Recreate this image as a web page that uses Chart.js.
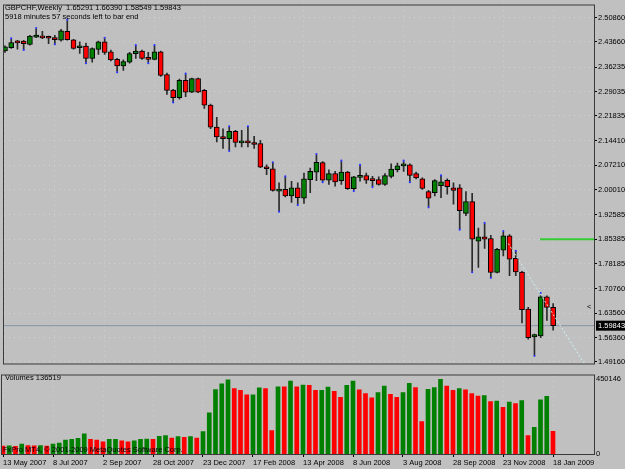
<!DOCTYPE html>
<html>
<head>
<meta charset="utf-8">
<script src="https://cdn.jsdelivr.net/npm/chart.js@4.4.1/dist/chart.umd.min.js"></script>
<style>
html, body { margin: 0; padding: 0; background: #c0c0c0; }
#wrap { position: relative; width: 625px; height: 469px; overflow: hidden; background: #c0c0c0; }
#price { position: absolute; left: 0; top: 0; }
#vol { position: absolute; left: 0; top: 369px; }
</style>
</head>
<body>
<div id="wrap">
  <canvas id="price" width="625" height="369"></canvas>
  <canvas id="vol" width="625" height="100"></canvas>
</div>
<script>
// GBPCHF weekly, 13 May 2007 .. 18 Jan 2009 (bar index 0..88)
const opens = [
  2.4098, 2.4194, 2.4389, 2.4389, 2.4290, 2.4505, 2.4543, 2.4505, 2.4493, 2.4418,
  2.4679, 2.4426, 2.4194, 2.4243, 2.3883, 2.4145, 2.4368, 2.4078, 2.3854, 2.3662,
  2.3767, 2.4020, 2.4098, 2.3903, 2.3854, 2.4078, 2.3401, 2.2945, 2.2721, 2.3235,
  2.2886, 2.3285, 2.2936, 2.2500, 2.1849, 2.1559, 2.1512, 2.1724, 2.1384, 2.1442,
  2.1396, 2.1367, 2.0669, 2.0620, 1.9960, 2.0010, 1.9815, 2.0059, 1.9748, 2.0300,
  2.0518, 2.0803, 2.0280, 2.0475, 2.0271, 2.0524, 2.0030, 2.0367, 2.0417, 2.0300,
  2.0300, 2.0155, 2.0396, 2.0591, 2.0707, 2.0736, 2.0475, 2.0321, 1.9943, 1.9914,
  2.0117, 2.0280, 2.0059, 2.0059, 1.9304, 1.9652, 1.8479, 1.8606, 1.8557, 1.7560,
  1.8217, 1.8635, 1.7976, 1.7569, 1.6474, 1.5651, 1.5680, 1.6834, 1.65291
];
const highs = [
  2.4252, 2.4447, 2.4418, 2.4418, 2.4563, 2.4746, 2.4679, 2.4543, 2.4563, 2.4737,
  2.4999, 2.4447, 2.4368, 2.4331, 2.4194, 2.4389, 2.4464, 2.4127, 2.3883, 2.3837,
  2.4057, 2.4243, 2.4127, 2.4057, 2.4243, 2.4098, 2.3447, 2.2965, 2.3273, 2.3401,
  2.3302, 2.3302, 2.2965, 2.2529, 2.2140, 2.1803, 2.1849, 2.1753, 2.1753, 2.1849,
  2.1579, 2.1463, 2.0736, 2.0786, 2.0205, 2.0367, 2.0251, 2.0205, 2.0495, 2.0640,
  2.1027, 2.0832, 2.0591, 2.0541, 2.0832, 2.0541, 2.0396, 2.0707, 2.0495, 2.0396,
  2.0379, 2.0475, 2.0765, 2.0786, 2.0832, 2.0765, 2.0524, 2.0350, 1.9981, 2.0300,
  2.0396, 2.0321, 2.0205, 2.0155, 1.9943, 1.9894, 1.8868, 1.8993, 1.8653, 1.8266,
  1.8752, 1.8673, 1.8171, 1.7589, 1.6523, 1.5735, 1.6880, 1.6863, 1.66390
];
const lows = [
  2.4057, 2.4174, 2.4156, 2.4156, 2.4272, 2.4493, 2.4464, 2.4319, 2.4319, 2.4389,
  2.4418, 2.4156, 2.4028, 2.3767, 2.3767, 2.3999, 2.3999, 2.3808, 2.3497, 2.3526,
  2.3738, 2.3883, 2.3854, 2.3767, 2.3837, 2.3351, 2.2820, 2.2605, 2.2674, 2.2750,
  2.2866, 2.2866, 2.2401, 2.1803, 2.1413, 2.1221, 2.1172, 2.1268, 2.1268, 2.1268,
  2.1221, 2.0649, 2.0446, 1.9960, 1.9379, 1.9786, 1.9623, 1.9574, 1.9594, 1.9914,
  2.0271, 2.0251, 2.0155, 2.0106, 2.0155, 2.0010, 1.9989, 2.0251, 2.0184, 2.0106,
  2.0135, 2.0126, 2.0350, 2.0524, 2.0541, 2.0251, 2.0321, 2.0010, 1.9507, 1.9815,
  1.9769, 1.9873, 1.9574, 1.8848, 1.9234, 1.7589, 1.7706, 1.8266, 1.7424, 1.7540,
  1.8043, 1.7462, 1.7462, 1.6067, 1.5584, 1.5120, 1.5631, 1.6137, 1.58549
];
const closes = [
  2.4223, 2.4348, 2.4339, 2.4319, 2.4543, 2.4572, 2.4485, 2.4476, 2.4435, 2.4697,
  2.4435, 2.4174, 2.4252, 2.3883, 2.4174, 2.4368, 2.4057, 2.3837, 2.3662, 2.3787,
  2.4020, 2.4098, 2.3883, 2.3854, 2.4078, 2.3380, 2.2936, 2.2721, 2.3235, 2.2886,
  2.3285, 2.2886, 2.2500, 2.1849, 2.1559, 2.1512, 2.1724, 2.1396, 2.1442, 2.1384,
  2.1338, 2.0669, 2.0620, 1.9981, 2.0010, 1.9815, 2.0059, 1.9769, 2.0321, 2.0541,
  2.0809, 2.0280, 2.0475, 2.0234, 2.0524, 2.0030, 2.0379, 2.0425, 2.0280, 2.0271,
  2.0155, 2.0417, 2.0611, 2.0707, 2.0736, 2.0425, 2.0350, 2.0039, 1.9748, 2.0271,
  2.0234, 2.0088, 1.9981, 1.9379, 1.9652, 1.8537, 1.8606, 1.8537, 1.7560, 1.8237,
  1.8635, 1.7947, 1.7569, 1.6456, 1.5631, 1.5718, 1.6834, 1.6523, 1.59843
];
const volumes = [
  47000, 49000, 46000, 60000, 51000, 49000, 51000, 48000, 60000, 66000,
  84000, 88000, 94000, 122000, 88000, 84000, 73000, 88000, 89000, 79000,
  73000, 79000, 88000, 90000, 88000, 107000, 111000, 96000, 105000, 101000,
  105000, 96000, 135000, 248000, 388000, 422000, 446000, 394000, 383000, 356000,
  357000, 398000, 394000, 141000, 405000, 404000, 439000, 405000, 415000, 414000,
  383000, 384000, 403000, 377000, 341000, 413000, 439000, 386000, 364000, 338000,
  370000, 409000, 360000, 341000, 370000, 426000, 400000, 195000, 390000, 400000,
  450146, 409000, 383000, 394000, 386000, 364000, 349000, 351000, 315000, 319000,
  281000, 313000, 304000, 321000, 111000, 161000, 326000, 347000, 136519
];
// fractal markers (bar index, price)
const fractalIdx = [1, 3, 5, 8, 10, 13, 16, 18, 21, 23, 24, 27, 29, 36, 36, 39, 43, 44, 45, 47,
  50, 51, 54, 56, 57, 59, 64, 65, 68, 70, 73, 75, 77, 78, 80, 82, 85, 86];
const fractalVal = [2.4475, 2.4130, 2.4775, 2.4295, 2.5025, 2.3740, 2.4490, 2.3470, 2.4270, 2.3740,
  2.4270, 2.2580, 2.3428, 2.1876, 2.1145, 2.1876, 2.0813, 1.9352, 2.0394, 1.9547,
  2.1054, 2.0224, 2.0859, 1.9962, 2.0734, 2.0079, 2.0859, 2.0224, 1.9480, 2.0423,
  1.8821, 1.7562, 1.9020, 1.7397, 1.8779, 1.8198, 1.5093, 1.6950];

const dateIdx = [0, 8, 16, 24, 32, 40, 48, 56, 64, 72, 80, 88];
const dateLabels = ['13 May 2007', '8 Jul 2007', '2 Sep 2007', '28 Oct 2007', '23 Dec 2007', '17 Feb 2008',
  '13 Apr 2008', '8 Jun 2008', '3 Aug 2008', '28 Sep 2008', '23 Nov 2008', '18 Jan 2009'];
const priceTicks = [2.50860, 2.43660, 2.36235, 2.29035, 2.21835, 2.14410, 2.07210, 2.00010,
  1.92585, 1.85385, 1.78185, 1.70760, 1.63560, 1.56360, 1.49160];
const volTicks = [0, 450146];

// drawn objects
const levelIdx = [85.9, 96];
const levelVal = [1.85385, 1.85385];
const trendIdx = [80.8, 94];
const trendVal = [1.8412, 1.4575];
const lastPrice = closes[closes.length - 1];

const X_MIN = -0.16, X_MAX = 94.56;
const font = { family: "'Liberation Sans', Arial, sans-serif", size: 7.5 };
const gridColor = 'rgba(212,212,212,0.9)';

const bull = '#008000', bear = '#ff0000';
const candleColors = opens.map((o, i) => closes[i] >= opens[i] ? bull : bear);
const volColors = volumes.map((v, i) => i > 0 && v > volumes[i - 1] ? bull : bear);

const frame = {
  id: 'frame',
  afterDraw(chart) {
    const a = chart.chartArea, ctx = chart.ctx;
    ctx.save();
    ctx.strokeStyle = '#3a3a3a';
    ctx.lineWidth = 1;
    ctx.strokeRect(a.left - 0.5, a.top - 0.5, a.right - a.left + 1, a.bottom - a.top + 1);
    ctx.restore();
  }
};

const priceText = {
  id: 'priceText',
  afterDraw(chart) {
    const ctx = chart.ctx, y = chart.scales.y, a = chart.chartArea;
    ctx.save();
    ctx.font = "7.5px 'Liberation Sans', Arial, sans-serif";
    ctx.fillStyle = '#000';
    ctx.textBaseline = 'middle';
    ctx.fillText('GBPCHF,Weekly  ' + [opens[88], highs[88], lows[88], closes[88]].map(v => v.toFixed(5)).join(' '), 5, 8);
    ctx.fillText('5918 minutes 57 seconds left to bar end', 5, 16.5);
    // current price box
    const py = y.getPixelForValue(lastPrice);
    ctx.fillStyle = '#000';
    ctx.fillRect(a.right + 2, py - 5, 31, 10);
    ctx.fillStyle = '#fff';
    ctx.fillText(lastPrice.toFixed(5), a.right + 4, py + 0.5);
    ctx.fillStyle = '#000';
    ctx.fillText('<', a.right - 7, y.getPixelForValue(opens[88]));
    ctx.restore();
  }
};

new Chart(document.getElementById('price'), {
  type: 'bar',
  data: {
    datasets: [
      {
        type: 'line', order: 6,
        data: [{ x: X_MIN - 1, y: lastPrice }, { x: X_MAX + 1, y: lastPrice }],
        borderColor: '#8494a6', borderWidth: 1, pointRadius: 0
      },
      {
        order: 5, grouped: false, barThickness: 1,
        data: highs.map((h, i) => ({ x: i, y: [lows[i], h] })),
        backgroundColor: '#2b2b2b', borderWidth: 0
      },
      {
        order: 4, grouped: false, barThickness: 5,
        data: opens.map((o, i) => ({ x: i, y: [o, closes[i]] })),
        backgroundColor: candleColors, borderColor: '#000', borderWidth: 1,
        borderSkipped: false, minBarLength: 2
      },
      {
        type: 'line', order: 3, showLine: false,
        data: fractalIdx.map((x, i) => ({ x: x, y: fractalVal[i] })),
        pointRadius: 1.1, pointBackgroundColor: '#2b35ff', pointBorderWidth: 0
      },
      {
        type: 'line', order: 2,
        data: levelIdx.map((x, i) => ({ x: x, y: levelVal[i] })),
        borderColor: '#33cc33', borderWidth: 2, pointRadius: 0
      },
      {
        type: 'line', order: 1,
        data: trendIdx.map((x, i) => ({ x: x, y: trendVal[i] })),
        borderColor: '#c8f4f4', borderWidth: 1, borderDash: [2, 2], pointRadius: 0
      }
    ]
  },
  options: {
    responsive: false,
    animation: false,
    devicePixelRatio: 1,
    layout: { padding: { left: 2, top: 3, right: 0, bottom: 2 } },
    scales: {
      x: {
        type: 'linear', min: X_MIN, max: X_MAX, offset: false,
        afterBuildTicks: s => { s.ticks = dateIdx.map(v => ({ value: v })); },
        afterFit: s => { s.height = 0; },
        ticks: { display: false },
        grid: { color: gridColor, drawTicks: false, offset: false },
        border: { display: false, dash: [1, 4] }
      },
      y: {
        position: 'right', min: 1.48667, max: 2.54434,
        afterBuildTicks: s => { s.ticks = priceTicks.map(v => ({ value: v })); },
        afterFit: s => { s.width = 31; },
        ticks: { callback: v => v.toFixed(5), color: '#000', font: font, padding: 1, autoSkip: false },
        grid: { color: gridColor, tickColor: '#000', tickLength: 3 },
        border: { display: false, dash: [1, 4] }
      }
    },
    plugins: {
      legend: { display: false },
      tooltip: { enabled: false }
    }
  },
  plugins: [frame, priceText]
});

const volText = {
  id: 'volText',
  afterDatasetsDraw(chart) {
    const ctx = chart.ctx;
    ctx.save();
    ctx.font = "7.5px 'Liberation Sans', Arial, sans-serif";
    ctx.fillStyle = '#000';
    ctx.textBaseline = 'middle';
    ctx.fillText('Volumes ' + volumes[volumes.length - 1], 5, 9);
    ctx.fillText('FxPro MT4, \u00a9 2001-2009 MetaQuotes Software Corp.', 3, 81);
    ctx.restore();
  }
};

new Chart(document.getElementById('vol'), {
  type: 'bar',
  data: {
    datasets: [{
      data: volumes.map((v, i) => ({ x: i, y: v })),
      backgroundColor: volColors, barThickness: 4, borderWidth: 0
    }]
  },
  options: {
    responsive: false,
    animation: false,
    devicePixelRatio: 1,
    layout: { padding: { left: 2, top: 1, right: 0, bottom: 0 } },
    scales: {
      x: {
        type: 'linear', min: X_MIN, max: X_MAX, offset: false,
        afterBuildTicks: s => { s.ticks = dateIdx.map(v => ({ value: v })); },
        afterFit: s => { s.height = 15; },
        ticks: {
          align: 'start', maxRotation: 0, autoSkip: false, padding: 1, color: '#000', font: font,
          callback: v => dateLabels[dateIdx.indexOf(v)]
        },
        grid: { color: gridColor, tickColor: '#000', tickLength: 3, offset: false },
        border: { display: false, dash: [1, 4] }
      },
      y: {
        position: 'right', min: 0, max: 472653,
        afterBuildTicks: s => { s.ticks = volTicks.map(v => ({ value: v })); },
        afterFit: s => { s.width = 31; },
        ticks: { callback: v => String(v), color: '#000', font: font, padding: 2, autoSkip: false },
        grid: { display: false, drawTicks: false, tickLength: 0 },
        border: { display: false }
      }
    },
    plugins: {
      legend: { display: false },
      tooltip: { enabled: false }
    }
  },
  plugins: [frame, volText]
});
</script>
</body>
</html>
